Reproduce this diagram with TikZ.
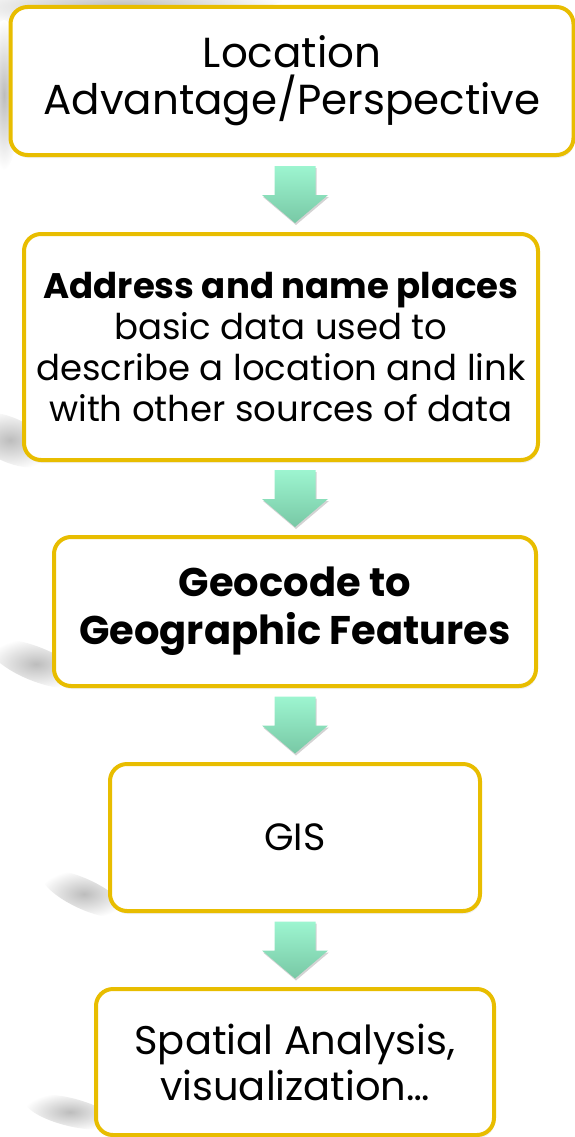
\documentclass[tikz,border=0pt]{standalone}
\usepackage{fontspec}
\setmainfont{Poppins}
\usetikzlibrary{calc,shadows}
\definecolor{gold}{HTML}{E8BD00}
\definecolor{mintTop}{HTML}{9DF5D0}
\definecolor{mintBot}{HTML}{78C8A5}
\tikzset{
  flowbox/.style={draw=gold, line width=4pt, fill=white, rounded corners=17pt,
    align=center, inner sep=0pt,
    drop shadow={opacity=0.12, shadow xshift=1pt, shadow yshift=-3pt}},
  bigtxt/.style={font=\fontsize{40}{47}\selectfont},
  midtxt/.style={font=\fontsize{35.5}{41}\selectfont},
  pageshadow/.style={inner color=black!26, outer color=white},
  arrowfill/.style={top color=mintTop, bottom color=mintBot,
    drop shadow={opacity=0.35, shadow xshift=1pt, shadow yshift=-2pt}}
}
\newcommand\flowarrow[2]{%
  \coordinate (mm) at ($(#1.south)!0.5!(#2.north)$);
  \coordinate (m) at (axis |- mm);
  \shade[arrowfill, shift={(m)}] (-20.5,-28.5) -- (20.5,-28.5) -- (20.5,0.5) -- (33,0.5)
     -- (0,28.5) -- (-33,0.5) -- (-20.5,0.5) -- cycle;
}
\begin{document}
\begin{tikzpicture}[x=1pt,y=-1pt]
\useasboundingbox (0,0) rectangle (575,1137);
\coordinate (axis) at (295,0);
% page-curl shadows at the left
\shade[pageshadow, shift={(120,4)}, rotate=3] (0,0) ellipse (170 and 20);
\shade[pageshadow, shift={(4,95)}] (0,0) ellipse (16 and 75);
\shade[pageshadow, shift={(10,440)}, rotate=-25] (0,0) ellipse (45 and 22);
\shade[pageshadow, shift={(36,664)}, rotate=-22] (0,0) ellipse (50 and 17);
\shade[pageshadow, shift={(84,894)}, rotate=-25] (0,0) ellipse (46 and 15);
\shade[pageshadow, shift={(70,1112)}, rotate=-14] (0,0) ellipse (46 and 14);
% boxes
\node[flowbox, font=\fontsize{42}{47}\selectfont, minimum width=563pt, minimum height=148pt] (b1) at (292,81)
  {Location\\Advantage/Perspective};
\node[flowbox, midtxt, minimum width=514pt, minimum height=226pt] (b2) at (281,347)
  {\textbf{Address and name places}\\basic data used to\\describe a location and link\\with other sources of data};
\node[flowbox, font=\fontsize{40}{48}\selectfont, minimum width=482pt, minimum height=149pt] (b3) at (295,611.5)
  {\textbf{Geocode to}\\\textbf{Geographic Features}};
\node[flowbox, font=\fontsize{38}{47}\selectfont, minimum width=370pt, minimum height=147pt] (b4) at (295,837.5)
  {GIS};
\node[flowbox, font=\fontsize{40}{46}\selectfont, minimum width=398pt, minimum height=146pt] (b5) at (295,1062)
  {Spatial Analysis,\\visualization…};
% arrows
\flowarrow{b1}{b2}
\flowarrow{b2}{b3}
\flowarrow{b3}{b4}
\flowarrow{b4}{b5}
\end{tikzpicture}
\end{document}
